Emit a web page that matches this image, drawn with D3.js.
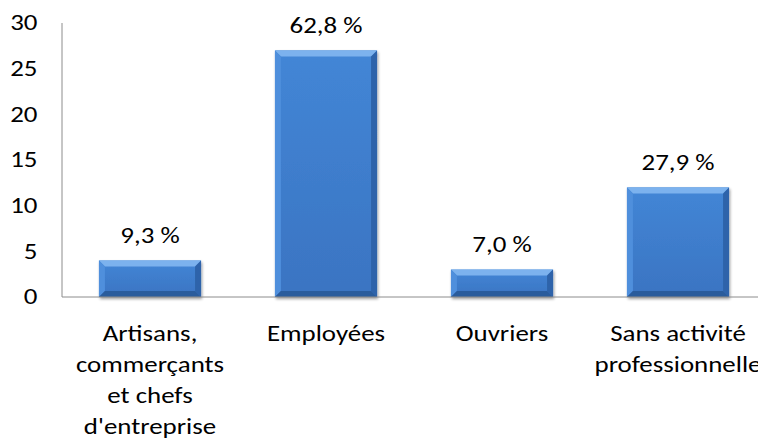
<!DOCTYPE html>
<html>
<head>
<meta charset="utf-8">
<script src="https://cdn.jsdelivr.net/npm/d3@7"></script>
<style>
  html, body { margin: 0; padding: 0; background: #fff; }
  svg { display: block; font-family: Carlito, Calibri, "Open Sans", sans-serif; }
</style>
</head>
<body>
<svg id="chart" width="758" height="444"></svg>
<script>
// Répartition par catégorie socioprofessionnelle
const categories = [
  ["Artisans,", "commerçants", "et chefs", "d'entreprise"],
  ["Employées"],
  ["Ouvriers"],
  ["Sans activité", "professionnelle"]
];
const counts = [4, 27, 3, 12];
const percentLabels = ["9,3 %", "62,8 %", "7,0 %", "27,9 %"];
const yTicks = [0, 5, 10, 15, 20, 25, 30];

const svg = d3.select("#chart");
const W = 758, H = 444;
const plotLeft = 62, plotTop = 23, plotBottom = 297;
const step = 176;
const fontSize = 23, stretch = 1.17;

const x = d3.scaleBand()
  .domain(d3.range(categories.length))
  .range([plotLeft, plotLeft + step * categories.length])
  .paddingInner(0.42)
  .paddingOuter(0.21);

const y = d3.scaleLinear().domain([0, 30]).range([plotBottom, plotTop]);

// Common text styling
function label(sel, anchor) {
  return sel
    .attr("text-anchor", anchor)
    .attr("font-size", fontSize)
    .attr("font-weight", 300)
    .attr("fill", "#000");
}

// Bevelled bar fill
const defs = svg.append("defs");
const body = defs.append("linearGradient").attr("id", "barBody")
  .attr("x1", 0).attr("y1", 0).attr("x2", 0).attr("y2", 1);
body.append("stop").attr("offset", 0).attr("stop-color", "#4386d6");
body.append("stop").attr("offset", 1).attr("stop-color", "#3a74c2");

const shadow = defs.append("filter").attr("id", "shadow")
  .attr("x", "-10%").attr("y", "-10%").attr("width", "120%").attr("height", "130%");
shadow.append("feGaussianBlur").attr("in", "SourceAlpha").attr("stdDeviation", 1.5);
shadow.append("feOffset").attr("dx", 1).attr("dy", 2).attr("result", "off");
shadow.append("feComponentTransfer").attr("result", "soft")
  .append("feFuncA").attr("type", "linear").attr("slope", 0.4);
const merge = shadow.append("feMerge");
merge.append("feMergeNode").attr("in", "soft");
merge.append("feMergeNode").attr("in", "SourceGraphic");

// Value axis line
svg.append("line")
  .attr("x1", plotLeft).attr("x2", plotLeft)
  .attr("y1", y(30)).attr("y2", y(0))
  .attr("stroke", "#8c8c8c").attr("stroke-width", 1);

// Value axis tick labels
svg.append("g").selectAll("text")
  .data(yTicks).join("text")
  .call(label, "end")
  .attr("transform", d => `translate(37.5,${y(d)}) scale(${stretch},1)`)
  .attr("dy", "0.32em")
  .text(d => d);

// Bars
const bw = x.bandwidth();
const bev = 6;
const bars = svg.append("g").selectAll("g")
  .data(counts).join("g")
  .attr("filter", "url(#shadow)");

bars.append("rect")
  .attr("x", (d, i) => x(i)).attr("y", d => y(d))
  .attr("width", bw).attr("height", d => y(0) - y(d))
  .attr("fill", "url(#barBody)");

// top bevel
bars.append("path")
  .attr("d", (d, i) => {
    const x0 = x(i), x1 = x0 + bw, y0 = y(d);
    return `M${x0},${y0}L${x1},${y0}L${x1 - bev},${y0 + bev}L${x0 + bev},${y0 + bev}Z`;
  })
  .attr("fill", "#7cb2ee");
// left bevel
bars.append("path")
  .attr("d", (d, i) => {
    const x0 = x(i), y0 = y(d), y1 = y(0);
    const b = Math.min(bev, (y1 - y0) / 2);
    return `M${x0},${y0}L${x0 + b},${y0 + b}L${x0 + b},${y1 - b}L${x0},${y1}Z`;
  })
  .attr("fill", "#4f8fdc");
// right bevel
bars.append("path")
  .attr("d", (d, i) => {
    const x1 = x(i) + bw, y0 = y(d), y1 = y(0);
    const b = Math.min(bev, (y1 - y0) / 2);
    return `M${x1},${y0}L${x1 - b},${y0 + b}L${x1 - b},${y1 - b}L${x1},${y1}Z`;
  })
  .attr("fill", "#2f64aa");
// bottom bevel
bars.append("path")
  .attr("d", (d, i) => {
    const x0 = x(i), x1 = x0 + bw, y1 = y(0);
    const b = Math.min(bev, (y1 - y(d)) / 2);
    return `M${x0},${y1}L${x1},${y1}L${x1 - b},${y1 - b}L${x0 + b},${y1 - b}Z`;
  })
  .attr("fill", "#2b5b9c");

// Baseline
svg.append("line")
  .attr("x1", plotLeft).attr("x2", W)
  .attr("y1", y(0)).attr("y2", y(0))
  .attr("stroke", "#8c8c8c").attr("stroke-width", 1);

// Percentage labels above the bars
svg.append("g").selectAll("text")
  .data(counts).join("text")
  .call(label, "middle")
  .attr("transform", (d, i) => `translate(${x(i) + bw / 2},${y(d) - 25}) scale(${stretch},1)`)
  .attr("dy", "0.32em")
  .text((d, i) => percentLabels[i]);

// Category labels, one line per tspan
const cat = svg.append("g").selectAll("text")
  .data(categories).join("text")
  .call(label, "middle")
  .attr("transform", (d, i) => `translate(${x(i) + bw / 2},0) scale(${stretch},1)`);
cat.selectAll("tspan")
  .data(d => d)
  .join("tspan")
  .attr("x", 0)
  .attr("y", (d, j) => 334 + j * 31)
  .attr("dy", "0.32em")
  .text(d => d);
</script>
</body>
</html>
